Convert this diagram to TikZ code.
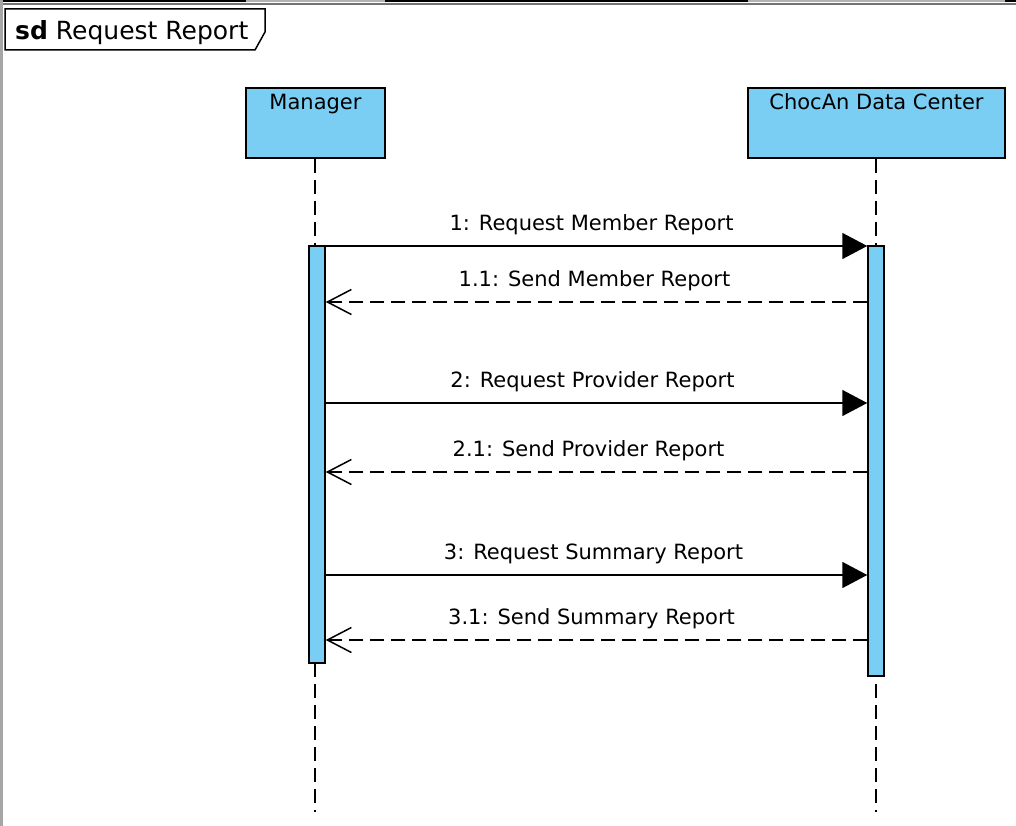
\documentclass[tikz,border=0pt]{standalone}
\usepackage{fontspec}
\setmainfont{DejaVu Sans}
\usetikzlibrary{arrows.meta,calc}
\definecolor{lifeblue}{RGB}{122,206,244}
\begin{document}
\begin{tikzpicture}[x=1pt,y=-1pt,
  head/.style={draw=black,line width=1.5pt,fill=lifeblue,minimum width=#1,minimum height=70pt,inner sep=0pt},
  actbar/.style={draw=black,line width=1.5pt,fill=lifeblue,minimum width=16pt,minimum height=#1,inner sep=0pt},
  lifeline/.style={line width=1.5pt,dash pattern=on 14pt off 7pt},
  callmsg/.style={line width=1.5pt,-{Triangle[length=25pt,width=26pt]}},
  replymsg/.style={line width=1.5pt,dash pattern=on 14pt off 7pt,-{Straight Barb[length=24pt,width=25pt,line width=1.5pt]}},
  msglabel/.style={font=\fontsize{21}{25}\selectfont,anchor=base,inner sep=0pt},
  headlabel/.style={font=\fontsize{21}{25}\selectfont,anchor=base,inner sep=0pt}
]
\useasboundingbox (0,0) rectangle (1016,826);
\fill[white] (0,0) rectangle (1016,826);
% window edges
\fill[black] (0,0) rectangle (1016,2);
\fill[gray!60] (246,0) rectangle (385,2.5);
\fill[gray!60] (748,0) rectangle (1005,2.5);
\fill[gray!90!black] (0,3.5) rectangle (1016,5);
\fill[gray!70] (0,0) rectangle (2.5,826);
% frame label
\draw[line width=1.5pt,fill=white] (5,9) -- (265,9) -- (265,32) -- (255,50) -- (5,50) -- cycle;
\node[anchor=base west,inner sep=0pt,font=\fontsize{25}{30}\selectfont] (title) at (15,40) {\textbf{sd} Request Report};
% heads
\node[head=139pt] (mgr) at (315.5,123) {};
\node[headlabel] (mgrlbl) at ($(mgr.north)+(0,22)$) {Manager};
\node[head=257pt] (cdc) at (876.5,123) {};
\node[headlabel] (cdclbl) at ($(cdc.north)+(0,22)$) {ChocAn Data Center};
% lifeline ends
\coordinate (mgrend) at (315,812);
\coordinate (cdcend) at (876,812);
\draw[lifeline] (mgr.south -| mgrend) -- (mgrend);
\draw[lifeline] (cdc.south -| cdcend) -- (cdcend);
% activation bars
\node[actbar=417pt] (actM) at (317,454.5) {};
\node[actbar=430pt] (actC) at (876,461) {};
% message levels
\coordinate (y1) at (0,246);
\coordinate (y11) at (0,302);
\coordinate (y2) at (0,403);
\coordinate (y21) at (0,472);
\coordinate (y3) at (0,575);
\coordinate (y31) at (0,640);
\draw[callmsg] (actM.east |- y1) -- coordinate (m1) (actC.west |- y1);
\draw[replymsg] (actC.west |- y11) -- coordinate (m11) (actM.east |- y11);
\draw[callmsg] (actM.east |- y2) -- coordinate (m2) (actC.west |- y2);
\draw[replymsg] (actC.west |- y21) -- coordinate (m21) (actM.east |- y21);
\draw[callmsg] (actM.east |- y3) -- coordinate (m3) (actC.west |- y3);
\draw[replymsg] (actC.west |- y31) -- coordinate (m31) (actM.east |- y31);
\node[msglabel] (l1) at ($(m1)+(-5,-16)$) {1: Request Member Report};
\node[msglabel] (l11) at ($(m11)+(-2,-16)$) {1.1: Send Member Report};
\node[msglabel] (l2) at ($(m2)+(-4,-16)$) {2: Request Provider Report};
\node[msglabel] (l21) at ($(m21)+(-8,-16)$) {2.1: Send Provider Report};
\node[msglabel] (l3) at ($(m3)+(-3,-16)$) {3: Request Summary Report};
\node[msglabel] (l31) at ($(m31)+(-5,-16)$) {3.1: Send Summary Report};
\end{tikzpicture}
\end{document}
